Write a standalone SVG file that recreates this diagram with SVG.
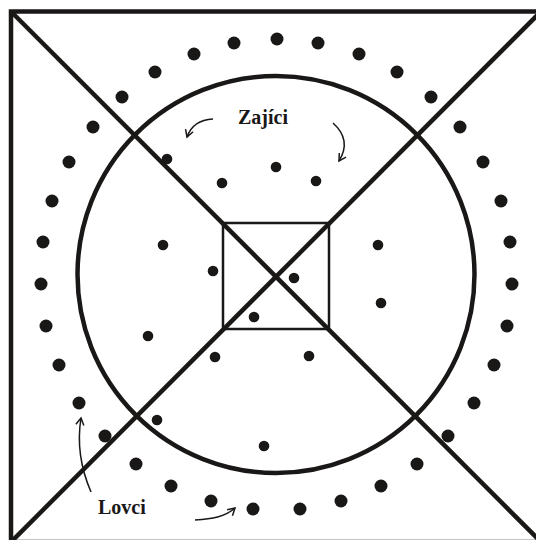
<svg xmlns="http://www.w3.org/2000/svg" width="536" height="540" viewBox="0 0 536 540">
<style>
.ln{fill:none;stroke:#1a1717;stroke-width:4.5}
.thin{fill:none;stroke:#1a1717;stroke-width:2.5}
.arr{fill:none;stroke:#1a1717;stroke-width:1.5;marker-end:url(#ah)}
.d{fill:#1a1717}
.lbl{font-family:"Liberation Serif",serif;font-weight:bold;font-size:20px;fill:#1a1717}
</style>
<defs>
<marker id="ah" markerUnits="userSpaceOnUse" markerWidth="12" markerHeight="12" refX="8" refY="5" orient="auto">
<path d="M1,1 L8,5 L1,9" fill="none" stroke="#1a1717" stroke-width="1.5"/>
</marker>
</defs>
<rect width="536" height="540" fill="#fff"/>
<g id="field">
<rect class="ln" x="11" y="11.5" width="530" height="530.5"/>
<line class="ln" x1="11" y1="11.5" x2="541" y2="542"/>
<line class="ln" x1="541" y1="11.5" x2="11" y2="542"/>
<circle class="ln" cx="276" cy="274.5" r="198.5"/>
<rect class="thin" x="223" y="223" width="106" height="106"/>
</g>
<g id="lovci">
<circle class="d" cx="277" cy="39" r="6.5"/><circle class="d" cx="318" cy="43" r="6.5"/><circle class="d" cx="359" cy="54" r="6.5"/><circle class="d" cx="397" cy="72" r="6.5"/><circle class="d" cx="431" cy="97" r="6.5"/><circle class="d" cx="460" cy="127" r="6.5"/><circle class="d" cx="483" cy="162" r="6.5"/><circle class="d" cx="501" cy="201" r="6.5"/><circle class="d" cx="510" cy="242" r="6.5"/><circle class="d" cx="512" cy="284" r="6.5"/><circle class="d" cx="507" cy="326" r="6.5"/><circle class="d" cx="494" cy="365" r="6.5"/><circle class="d" cx="474" cy="403" r="6.5"/><circle class="d" cx="448" cy="436" r="6.5"/><circle class="d" cx="417" cy="464" r="6.5"/><circle class="d" cx="381" cy="486" r="6.5"/><circle class="d" cx="341" cy="501" r="6.5"/><circle class="d" cx="300" cy="509" r="6.5"/><circle class="d" cx="253" cy="509" r="6.5"/><circle class="d" cx="211" cy="501" r="6.5"/><circle class="d" cx="171" cy="486" r="6.5"/><circle class="d" cx="136" cy="464" r="6.5"/><circle class="d" cx="105" cy="436" r="6.5"/><circle class="d" cx="79" cy="403" r="6.5"/><circle class="d" cx="59" cy="365" r="6.5"/><circle class="d" cx="46" cy="326" r="6.5"/><circle class="d" cx="41" cy="284" r="6.5"/><circle class="d" cx="43" cy="242" r="6.5"/><circle class="d" cx="52" cy="201" r="6.5"/><circle class="d" cx="69" cy="162" r="6.5"/><circle class="d" cx="93" cy="127" r="6.5"/><circle class="d" cx="122" cy="97" r="6.5"/><circle class="d" cx="155" cy="72" r="6.5"/><circle class="d" cx="194" cy="54" r="6.5"/><circle class="d" cx="234" cy="43" r="6.5"/>
</g>
<g id="zajici">
<circle class="d" cx="167" cy="159" r="5.3"/><circle class="d" cx="276" cy="167" r="5.3"/><circle class="d" cx="222" cy="183" r="5.3"/><circle class="d" cx="316" cy="181" r="5.3"/><circle class="d" cx="163" cy="245" r="5.3"/><circle class="d" cx="378" cy="245" r="5.3"/><circle class="d" cx="213" cy="271" r="5.3"/><circle class="d" cx="294" cy="278" r="5.3"/><circle class="d" cx="254" cy="317" r="5.3"/><circle class="d" cx="381" cy="303" r="5.3"/><circle class="d" cx="148" cy="336" r="5.3"/><circle class="d" cx="215" cy="357" r="5.3"/><circle class="d" cx="309" cy="356" r="5.3"/><circle class="d" cx="157" cy="420" r="5.3"/><circle class="d" cx="264" cy="446" r="5.3"/>
</g>
<g id="connectors">
<path class="arr" d="M213,119 Q193,120 187,137"/>
<path class="arr" d="M333,123 Q352,140 339,161"/>
<path class="arr" d="M91,492 Q75,455 81,418"/>
<path class="arr" d="M195,520 C212,519 225,517 235,508"/>
</g>
<g id="labels">
<text class="lbl" x="238" y="124">Zajíci</text>
<text class="lbl" x="98" y="514">Lovci</text>
</g>
</svg>
